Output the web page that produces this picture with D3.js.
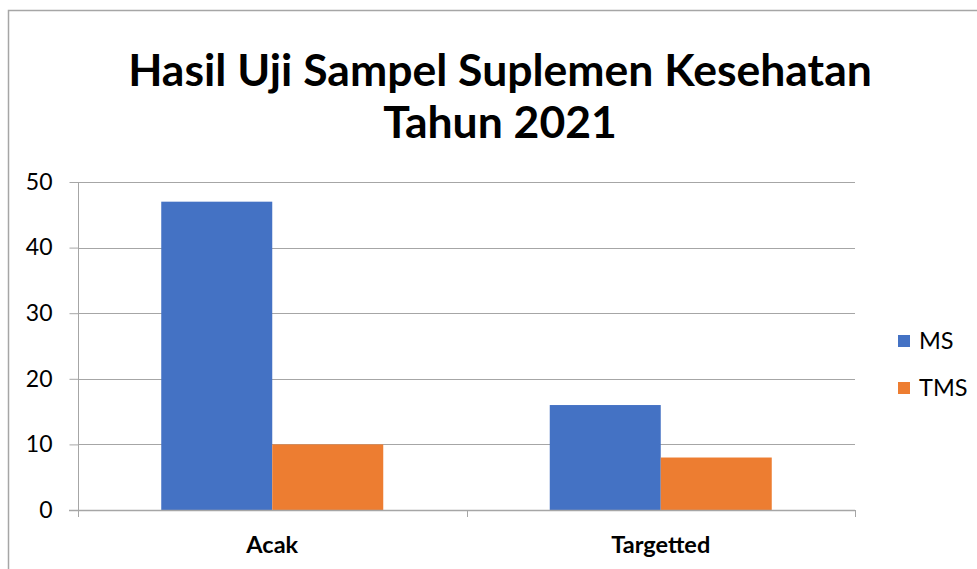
<!DOCTYPE html>
<html>
<head>
<meta charset="utf-8">
<script src="https://cdn.jsdelivr.net/npm/d3@7/dist/d3.min.js"></script>
<style>
  html, body { margin: 0; padding: 0; background: #fff; }
  svg { display: block; font-family: Lato, "Open Sans", sans-serif; }
</style>
</head>
<body>
<svg id="chart" width="977" height="569"></svg>
<script>
// chart data
var titleLines = ['Hasil Uji Sampel Suplemen Kesehatan', 'Tahun 2021'];
var categories = ['Acak', 'Targetted'];
var seriesNames = ['MS', 'TMS'];
var msValues = [47, 16];
var tmsValues = [10, 8];
var yTicks = [0, 10, 20, 30, 40, 50];
var colors = ['#4472c4', '#ed7d31'];

var svg = d3.select('#chart');
var plot = { left: 78, right: 855, top: 182, bottom: 510 };

// outer frame (only left and top visible in the picture)
svg.append('path')
  .attr('d', 'M8.5,569 L8.5,10.5 L977,10.5')
  .attr('fill', 'none').attr('stroke', '#a6a6a6').attr('stroke-width', 1.5);

// title
svg.append('g').selectAll('text').data(titleLines).enter().append('text')
  .attr('x', 500).attr('y', function(d, i){ return 86 + i * 52; })
  .attr('text-anchor', 'middle')
  .attr('font-size', 44.5).attr('font-weight', 'bold').attr('fill', '#000')
  .text(function(d){ return d; });

var x0 = d3.scaleBand().domain(categories).range([plot.left, plot.right]);
var x1 = d3.scaleBand().domain(seriesNames).range([0, x0.bandwidth()]).paddingOuter(0.75);
var y = d3.scaleLinear().domain([0, 50]).range([plot.bottom, plot.top]);

// gridlines
svg.append('g').selectAll('line').data(yTicks.filter(function(d){ return d > 0; })).enter().append('line')
  .attr('x1', plot.left).attr('x2', plot.right)
  .attr('y1', function(d){ return Math.round(y(d)) + 0.5; })
  .attr('y2', function(d){ return Math.round(y(d)) + 0.5; })
  .attr('stroke', '#a6a6a6').attr('stroke-width', 1);

// bars
var rows = categories.map(function(c, i){ return { cat: c, vals: [msValues[i], tmsValues[i]] }; });
var groups = svg.append('g').selectAll('g').data(rows).enter().append('g')
  .attr('transform', function(d){ return 'translate(' + x0(d.cat) + ',0)'; });
groups.selectAll('rect').data(function(d){ return d.vals.map(function(v, j){ return { name: seriesNames[j], v: v, j: j }; }); })
  .enter().append('rect')
  .attr('x', function(d){ return x1(d.name); })
  .attr('width', x1.bandwidth())
  .attr('y', function(d){ return y(d.v); })
  .attr('height', function(d){ return y(0) - y(d.v); })
  .attr('fill', function(d){ return colors[d.j]; });

// y axis
var yAxis = svg.append('g').attr('transform', 'translate(' + (plot.left + 0.5) + ',0)')
  .call(d3.axisLeft(y).tickValues(yTicks).tickSize(9).tickPadding(17));
yAxis.select('.domain').attr('stroke', '#a6a6a6').attr('d', 'M0,' + plot.top + 'V' + (plot.bottom + 7));
yAxis.selectAll('.tick line').attr('stroke', '#a6a6a6');
yAxis.selectAll('.tick text').attr('font-size', 23).attr('fill', '#000').attr('font-family', 'Lato, sans-serif');

// x axis
var xAxisG = svg.append('g');
xAxisG.append('line')
  .attr('x1', plot.left - 9).attr('x2', plot.right)
  .attr('y1', plot.bottom + 0.5).attr('y2', plot.bottom + 0.5)
  .attr('stroke', '#a6a6a6').attr('stroke-width', 1.5);
var bounds = categories.map(function(c){ return x0(c); }).concat([plot.right]);
xAxisG.selectAll('.xt').data(bounds).enter().append('line')
  .attr('x1', function(d){ return Math.round(d) + 0.5; }).attr('x2', function(d){ return Math.round(d) + 0.5; })
  .attr('y1', plot.bottom).attr('y2', plot.bottom + 7)
  .attr('stroke', '#a6a6a6');
xAxisG.selectAll('text').data(categories).enter().append('text')
  .attr('x', function(d){ return x0(d) + x0.bandwidth() / 2; })
  .attr('y', 553)
  .attr('text-anchor', 'middle')
  .attr('font-size', 23.5).attr('font-weight', 'bold').attr('fill', '#000')
  .text(function(d){ return d; });

// legend
var legend = svg.append('g').selectAll('g').data(seriesNames).enter().append('g')
  .attr('transform', function(d, i){ return 'translate(898,' + (335 + i * 47) + ')'; });
legend.append('rect').attr('width', 12).attr('height', 12)
  .attr('fill', function(d, i){ return colors[i]; });
legend.append('text').attr('x', 21).attr('y', 14)
  .attr('font-size', 23.5).attr('fill', '#000')
  .text(function(d){ return d; });
</script>
</body>
</html>
